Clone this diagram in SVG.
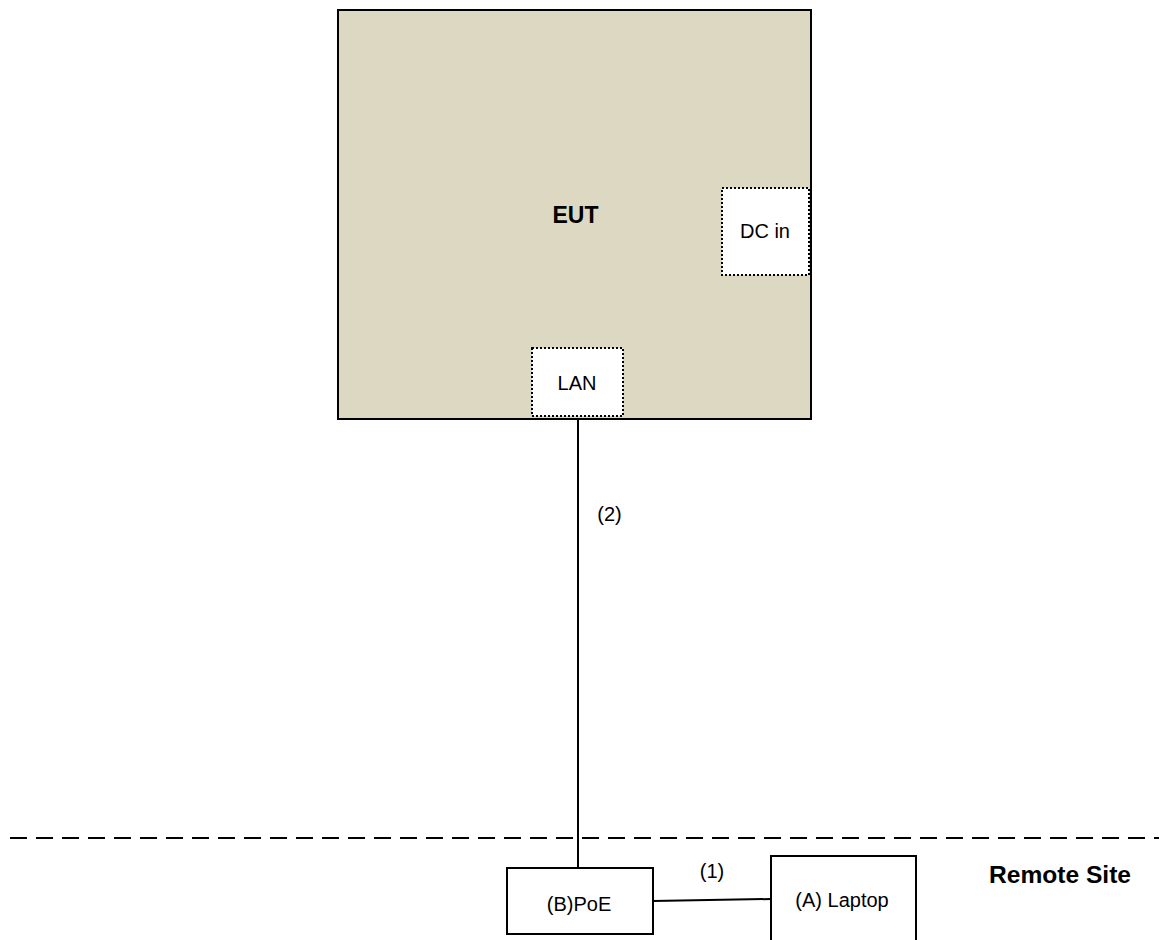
<svg xmlns="http://www.w3.org/2000/svg" width="1159" height="940" viewBox="0 0 1159 940">
<style>
text{font-family:"Liberation Sans",Arial,sans-serif;fill:#000;}
.lbl{font-size:20px;}
.bold{font-weight:bold;}
.box{fill:#fff;stroke:#000;stroke-width:2;}
.port{fill:#fff;stroke:#000;stroke-width:2;stroke-dasharray:2 2;}
.wire{stroke:#000;stroke-width:2;fill:none;}
</style>
<rect width="1159" height="940" fill="#fff"/>
<g id="eut">
<rect x="338" y="10" width="473" height="409" fill="#ddd8c2" stroke="#000" stroke-width="2"/>
<text x="575.5" y="223" class="bold" font-size="23" text-anchor="middle">EUT</text>
</g>
<g id="dc-in">
<rect x="722" y="188" width="87" height="87" class="port"/>
<text x="765" y="238" class="lbl" text-anchor="middle">DC in</text>
</g>
<g id="lan">
<rect x="532" y="348" width="91" height="68" class="port"/>
<text x="577" y="390" class="lbl" text-anchor="middle">LAN</text>
</g>
<g id="boundary">
<line x1="10" y1="838" x2="1159" y2="838" stroke="#000" stroke-width="2" stroke-dasharray="17 9"/>
<text x="989" y="883" class="bold" font-size="23" textLength="142" lengthAdjust="spacingAndGlyphs">Remote Site</text>
</g>
<g id="connectors">
<line x1="578" y1="419" x2="578" y2="868" class="wire"/>
<text x="609.5" y="521" class="lbl" text-anchor="middle">(2)</text>
<line x1="653" y1="901" x2="771" y2="899" class="wire"/>
<text x="712" y="878" class="lbl" text-anchor="middle">(1)</text>
</g>
<g id="poe">
<rect x="507" y="868" width="146" height="66" class="box"/>
<text x="579" y="911" class="lbl" text-anchor="middle">(B)PoE</text>
</g>
<g id="laptop">
<rect x="771" y="856" width="145" height="100" class="box"/>
<text x="842" y="907" class="lbl" text-anchor="middle">(A) Laptop</text>
</g>
</svg>
